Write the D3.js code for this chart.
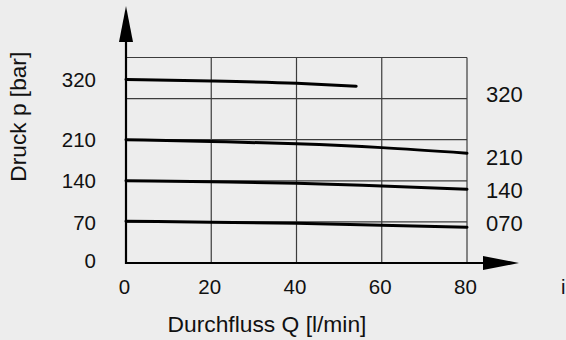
<!DOCTYPE html>
<html><head><meta charset="utf-8">
<script src="https://cdn.jsdelivr.net/npm/d3@7"></script>
<style>
html,body{margin:0;padding:0;background:#ededed;}
svg{display:block;font-family:"Liberation Sans",Arial,sans-serif;}
</style></head><body>
<svg id="chart" width="566" height="340"></svg>
<script>
// ---- data ----
const flowTicks = [0, 20, 40, 60, 80];
const pressureTicks = [0, 70, 140, 210, 320];
const pressureGrid = [70, 140, 210, 280, 350];
const seriesNames = ["320", "210", "140", "070"];
const flow320 = [0, 20, 40, 54];
const p320 = [320, 317, 312, 306];
const flowStd = [0, 20, 40, 60, 80];
const p210 = [210, 207, 203, 196.5, 187];
const p140 = [140, 138.5, 136, 131, 125.5];
const p070 = [71, 69.5, 67.5, 64.5, 61];
const xLabel = "Durchfluss Q [l/min]";
const yLabel = "Druck p [bar]";
const strayText = "i";

// ---- layout ----
const svg = d3.select("#chart");
const x = d3.scaleLinear().domain([0, 80]).range([126, 467]);
const y = d3.scaleLinear().domain([0, 280, 320, 350]).range([263, 98.6, 79.5, 57.5]);
const labelAnchors = [290, 180, 124, 68]; // series label positions in pressure units

const series = [
  {name: seriesNames[0], xs: flow320, ys: p320},
  {name: seriesNames[1], xs: flowStd, ys: p210},
  {name: seriesNames[2], xs: flowStd, ys: p140},
  {name: seriesNames[3], xs: flowStd, ys: p070}
];

// grid
const grid = svg.append("g").attr("stroke", "#3c3c3c").attr("stroke-width", 1.2);
grid.selectAll("line.h").data(pressureGrid).join("line")
  .attr("x1", x(0)).attr("x2", x(80))
  .attr("y1", d => y(d)).attr("y2", d => y(d));
grid.selectAll("line.v").data(flowTicks.slice(1)).join("line")
  .attr("class", "v")
  .attr("x1", d => x(d)).attr("x2", d => x(d))
  .attr("y1", y(0)).attr("y2", y(350));

// curves
const line = d3.line().x(d => x(d[0])).y(d => y(d[1])).curve(d3.curveMonotoneX);
svg.append("g").selectAll("path").data(series).join("path")
  .attr("d", s => line(s.xs.map((v, i) => [v, s.ys[i]])))
  .attr("fill", "none").attr("stroke", "#000").attr("stroke-width", 3)
  .attr("stroke-linecap", "round");

// axes lines with arrows
svg.append("line").attr("x1", x(0)).attr("x2", x(0)).attr("y1", y(0) + 1).attr("y2", 42)
  .attr("stroke", "#000").attr("stroke-width", 2.2);
svg.append("path").attr("d", `M${x(0)},6 L${x(0) - 7},42 L${x(0) + 7},42 Z`).attr("fill", "#000");
svg.append("line").attr("x1", x(0) - 1).attr("x2", 484).attr("y1", y(0)).attr("y2", y(0))
  .attr("stroke", "#000").attr("stroke-width", 2.2);
svg.append("path").attr("d", `M519,${y(0)} L483,${y(0) - 7} L483,${y(0) + 7} Z`).attr("fill", "#000");

// y tick labels
const yAxis = d3.axisLeft(y).tickValues(pressureTicks).tickSize(0).tickPadding(0).tickFormat(d3.format("d"));
const yg = svg.append("g").attr("transform", "translate(96,0)").call(yAxis);
yg.select(".domain").remove();
yg.selectAll("text").attr("font-size", 20.5).attr("fill", "#111").attr("font-family", "Liberation Sans, Arial, sans-serif")
  .attr("dy", d => d === 0 ? "0.2em" : "0.35em");

// x tick labels
const xAxis = d3.axisBottom(x).tickValues(flowTicks).tickSize(0).tickPadding(0).tickFormat(d3.format("d"));
const xg = svg.append("g").attr("transform", "translate(-2,279)").call(xAxis);
xg.select(".domain").remove();
xg.selectAll("text").attr("font-size", 20.5).attr("fill", "#111").attr("font-family", "Liberation Sans, Arial, sans-serif")
  .attr("dy", "0.75em");

// series labels on the right
svg.append("g").selectAll("text").data(series).join("text")
  .attr("x", 486).attr("y", (s, i) => y(labelAnchors[i])).attr("dy", "0.36em")
  .attr("font-size", 22).attr("fill", "#111").text(s => s.name);

// titles
svg.append("text").attr("x", 267).attr("y", 331.5).attr("text-anchor", "middle")
  .attr("font-size", 22.8).attr("fill", "#111").text(xLabel);
svg.append("text").attr("transform", "translate(26,116.7) rotate(-90)").attr("text-anchor", "middle")
  .attr("font-size", 22.7).attr("fill", "#111").text(yLabel);
svg.append("text").attr("x", 561).attr("y", 294).attr("font-size", 20).attr("fill", "#111").text(strayText);
</script>
</body></html>
